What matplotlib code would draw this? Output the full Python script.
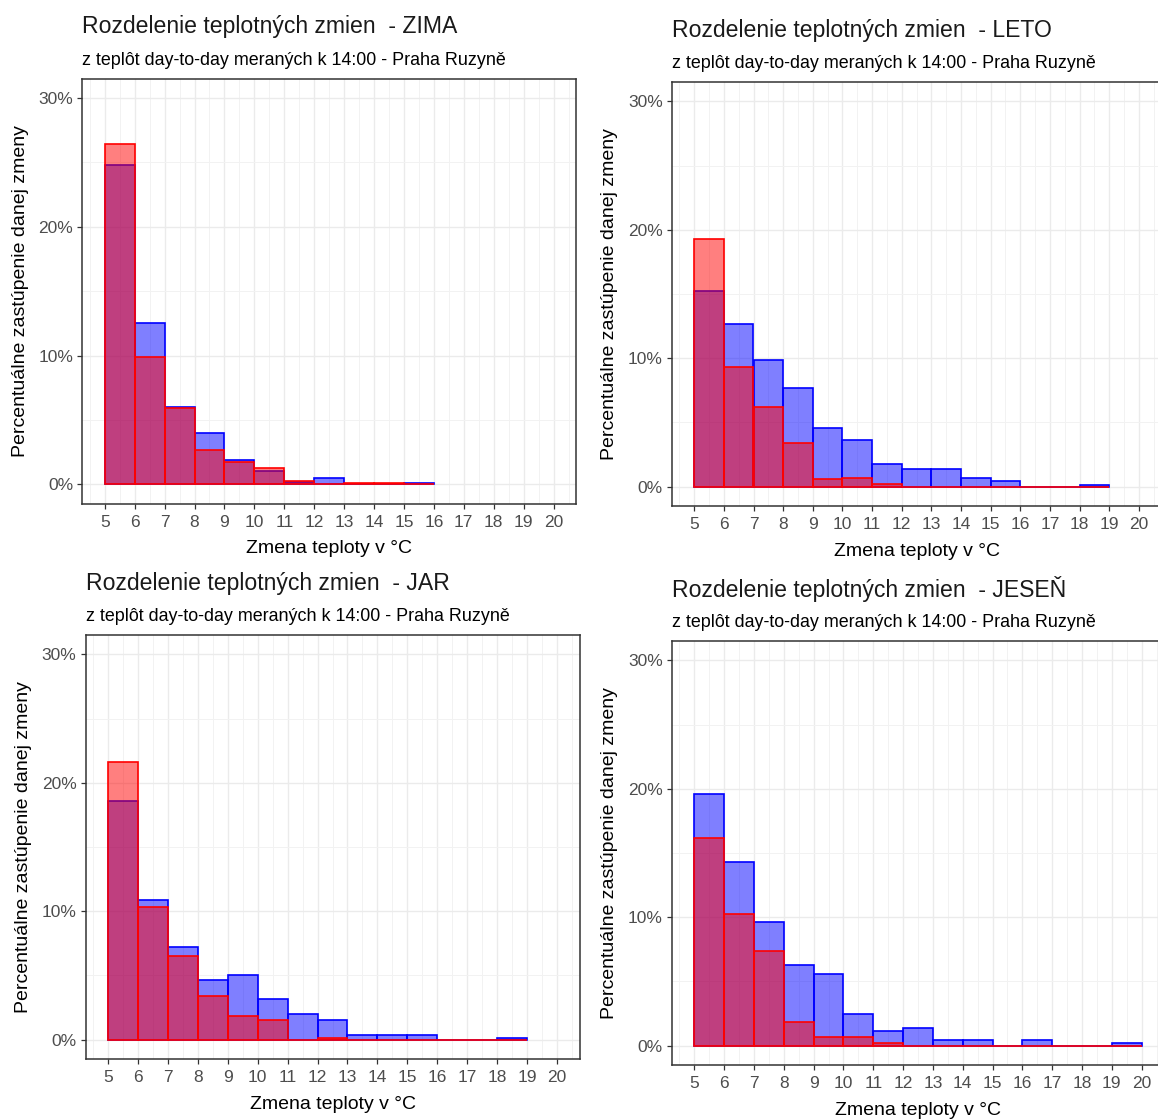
import matplotlib
matplotlib.use("Agg")
import matplotlib.pyplot as plt
import numpy as np

plt.rcParams['font.family'] = ['Liberation Sans', 'DejaVu Sans']

W, H = 1158, 1119

# ---- data (percent of cases per 1 °C bin, bins start at left edge) ----
zima_edges = [5, 6, 7, 8, 9, 10, 11, 12, 13, 14, 15]
zima_blue = [24.8, 12.5, 6.0, 4.0, 1.9, 1.06, 0.18, 0.5, 0.05, 0.05, 0.15]
zima_red = [26.4, 9.9, 5.9, 2.7, 1.76, 1.3, 0.26, 0.03, 0.1, 0.1, 0.02]

leto_edges = [5, 6, 7, 8, 9, 10, 11, 12, 13, 14, 15, 16, 17, 18]
leto_blue = [15.2, 12.7, 9.9, 7.7, 4.56, 3.63, 1.76, 1.4, 1.4, 0.7, 0.47, 0, 0, 0.12]
leto_red = [19.25, 9.35, 6.2, 3.4, 0.6, 0.7, 0.23, 0, 0, 0, 0, 0, 0, 0]

jar_edges = [5, 6, 7, 8, 9, 10, 11, 12, 13, 14, 15, 16, 17, 18]
jar_blue = [18.6, 10.9, 7.25, 4.66, 5.03, 3.19, 2.0, 1.53, 0.34, 0.34, 0.34, 0, 0, 0.13]
jar_red = [21.6, 10.3, 6.55, 3.4, 1.87, 1.55, 0, 0.13, 0, 0, 0, 0, 0, 0]

jesen_edges = [5, 6, 7, 8, 9, 10, 11, 12, 13, 14, 15, 16, 17, 18, 19]
jesen_blue = [19.6, 14.3, 9.6, 6.3, 5.6, 2.46, 1.17, 1.4, 0.47, 0.47, 0, 0.47, 0, 0, 0.23]
jesen_red = [16.2, 10.25, 7.36, 1.87, 0.7, 0.7, 0.23, 0, 0, 0, 0, 0, 0, 0, 0]

x_ticks = list(range(5, 21))
y_ticks = [0, 10, 20, 30]
y_ticklabels = ["0%", "10%", "20%", "30%"]

title_base = "Rozdelenie teplotných zmien  - "
subtitle = "z teplôt day-to-day meraných k 14:00 - Praha Ruzyně"
xlabel = "Zmena teploty v °C"
ylabel = "Percentuálne zastúpenie danej zmeny"

seasons = [
    ("ZIMA", zima_edges, zima_blue, zima_red),
    ("LETO", leto_edges, leto_blue, leto_red),
    ("JAR", jar_edges, jar_blue, jar_red),
    ("JESEŇ", jesen_edges, jesen_blue, jesen_red),
]

# panel rectangles in pixels: left, top, right, bottom
panels = [
    (82.3, 78.7, 576.0, 503.8),
    (672.0, 82.0, 1161.0, 506.0),
    (85.5, 635.0, 579.5, 1059.0),
    (672.0, 641.0, 1164.0, 1065.0),
]

fig = plt.figure(figsize=(W / 100, H / 100), dpi=100)

for (name, edges, blue, red), (l, t, r, b) in zip(seasons, panels):
    ax = fig.add_axes([l / W, 1 - b / H, (r - l) / W, (b - t) / H])
    ax.set_xlim(4.25, 20.75)
    ax.set_ylim(-1.5, 31.5)
    ax.set_axisbelow(True)
    ax.set_xticks(x_ticks)
    ax.set_xticks(np.arange(4.5, 21, 1.0), minor=True)
    ax.set_yticks(y_ticks)
    ax.set_yticklabels(y_ticklabels)
    ax.set_yticks([5, 15, 25], minor=True)
    ax.grid(True, which='major', color='#EBEBEB', lw=1.0)
    ax.grid(True, which='minor', color='#F2F2F2', lw=0.7)
    ax.tick_params(which='minor', length=0)
    ax.tick_params(which='major', length=3.5, width=0.9, color='#333333',
                   labelcolor='#4D4D4D', labelsize=12.5, pad=3)
    ax.tick_params(axis='x', which='major', pad=4.5)
    for sp in ax.spines.values():
        sp.set_color('#333333')
        sp.set_linewidth(1.1)
    ax.bar(edges, blue, width=1, align='edge', color=(0, 0, 1, 0.5),
           edgecolor='blue', linewidth=1.2, zorder=2)
    ax.bar(edges, red, width=1, align='edge', color=(1, 0, 0, 0.5),
           edgecolor='red', linewidth=1.2, zorder=3)
    ax.set_xlabel(xlabel, fontsize=14, color='black', labelpad=7.5)
    ax.set_ylabel(ylabel, fontsize=14, color='black', labelpad=7)
    fig.text(l / W, 1 - (t - 52) / H, title_base + name, fontsize=16.6,
             ha='left', va='center', color='#1a1a1a')
    fig.text(l / W, 1 - (t - 18.5) / H, subtitle, fontsize=12.9,
             ha='left', va='center', color='black')

fig.savefig("out.png", dpi=100, facecolor='white')
